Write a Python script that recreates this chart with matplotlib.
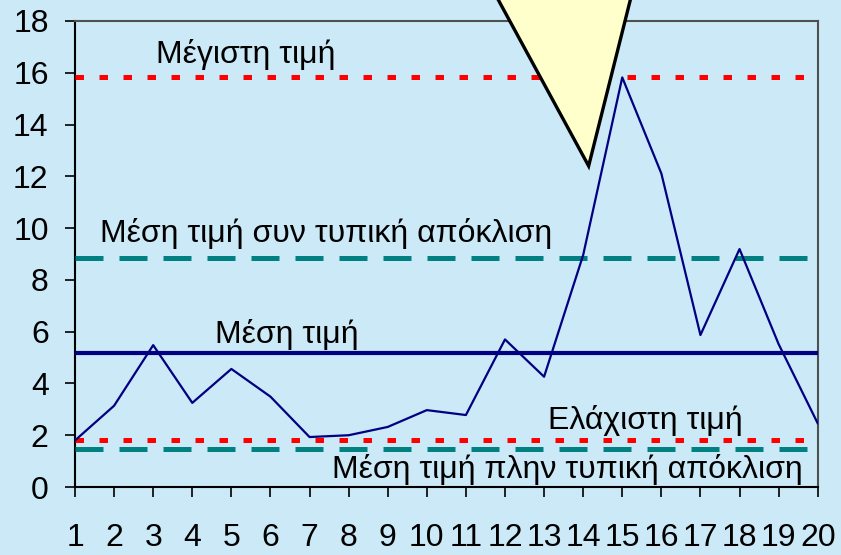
import matplotlib

matplotlib.use("Agg")

from matplotlib import pyplot as plt
from matplotlib.patches import Polygon

plt.rcParams["font.family"] = ["Liberation Sans", "DejaVu Sans"]

BG = "#cbe9f7"
NAVY = "#000080"
TEAL = "#008080"
RED = "#ff0000"

# values
positions = list(range(1, 21))
values = [1.80, 3.14, 5.48, 3.25, 4.56, 3.49, 1.93, 2.00, 2.32, 2.97,
          2.78, 5.70, 4.26, 8.96, 15.82, 12.11, 5.87, 9.19, 5.52, 2.46]
mean_value = 5.17
plus_std = 8.86
minus_std = 1.47
max_value = 15.82
min_value = 1.80

# callout triangle (data coordinates, extends past top of the axes)
callout_x = [11.69, 14.14, 15.27]
callout_y = [19.2, 12.4, 19.2]

labels = [
    ("Μέγιστη τιμή", 3.08, 16.36),
    ("Μέση τιμή συν τυπική απόκλιση", 1.65, 9.47),
    ("Μέση τιμή", 4.58, 5.56),
    ("Ελάχιστη τιμή", 13.09, 2.24),
    ("Μέση τιμή πλην τυπική απόκλιση", 7.58, 0.36),
]

fig = plt.figure(figsize=(8.41, 5.55), dpi=100, facecolor=BG)
ax = fig.add_axes([0.0892, 0.1225, 0.8831, 0.8397], facecolor=BG)

ax.plot(positions, values, color=NAVY, linewidth=1.6, zorder=4)
ax.axhline(mean_value, color=NAVY, linewidth=3.0, zorder=3)
ax.axhline(max_value, color=RED, linewidth=3.6, linestyle=(0, (1.7, 3.1)), zorder=3)
ax.axhline(min_value, color=RED, linewidth=3.6, linestyle=(0, (1.7, 3.1)), zorder=3)
ax.axhline(plus_std, color=TEAL, linewidth=3.6, linestyle=(0, (5.6, 3.2)), zorder=3)
ax.axhline(minus_std, color=TEAL, linewidth=3.6, linestyle=(0, (5.6, 3.2)), zorder=3)

tri = Polygon(list(zip(callout_x, callout_y)), closed=True, facecolor="#ffffcc",
              edgecolor="black", linewidth=2.4, clip_on=False, zorder=6)
ax.add_patch(tri)

for text, x, y in labels:
    ax.text(x, y, text, fontsize=23, va="baseline", ha="left", zorder=5)

ax.set_xlim(1, 20)
ax.set_ylim(0, 18)
ax.set_xticks(positions)
ax.set_yticks(range(0, 19, 2))
ax.tick_params(axis="both", labelsize=23, direction="out", length=7, width=1.2)
ax.tick_params(axis="x", pad=19)
ax.tick_params(axis="y", pad=12)

for side in ("left", "bottom"):
    ax.spines[side].set_color("black")
    ax.spines[side].set_linewidth(1.5)
for side in ("top", "right"):
    ax.spines[side].set_color("#505050")
    ax.spines[side].set_linewidth(1.5)

fig.savefig("out.png", dpi=100, facecolor=BG)
